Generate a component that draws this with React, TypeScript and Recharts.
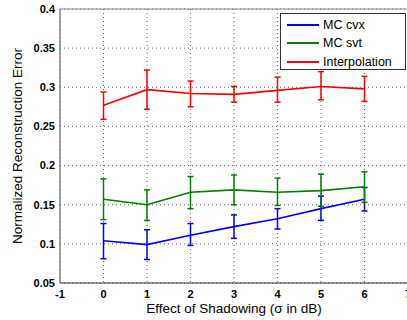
import React from 'react';
import { LineChart, Line, XAxis, YAxis, CartesianGrid, ErrorBar, Legend, ReferenceLine } from 'recharts';

const shadowing = [0, 1, 2, 3, 4, 5, 6];
const cvxMean = [0.104, 0.099, 0.111, 0.122, 0.132, 0.145, 0.157];
const cvxLow = [0.081, 0.080, 0.098, 0.107, 0.119, 0.130, 0.142];
const cvxHigh = [0.126, 0.118, 0.126, 0.137, 0.145, 0.161, 0.172];
const svtMean = [0.157, 0.150, 0.166, 0.169, 0.166, 0.168, 0.173];
const svtLow = [0.131, 0.130, 0.145, 0.150, 0.149, 0.148, 0.153];
const svtHigh = [0.183, 0.169, 0.186, 0.188, 0.184, 0.189, 0.192];
const intMean = [0.277, 0.297, 0.292, 0.291, 0.296, 0.301, 0.298];
const intLow = [0.259, 0.272, 0.275, 0.281, 0.281, 0.284, 0.282];
const intHigh = [0.294, 0.322, 0.308, 0.301, 0.313, 0.320, 0.314];
const xTicks = [-1, 0, 1, 2, 3, 4, 5, 6, 7];
const yTicks = [0.05, 0.1, 0.15, 0.2, 0.25, 0.3, 0.35, 0.4];
const seriesNames = ['MC cvx', 'MC svt', 'Interpolation'];
const seriesColors = ['#0000ff', '#008000', '#ff0000'];

const data = shadowing.map((x, i) => ({
  x,
  cvx: cvxMean[i],
  cvxErr: [cvxMean[i] - cvxLow[i], cvxHigh[i] - cvxMean[i]],
  svt: svtMean[i],
  svtErr: [svtMean[i] - svtLow[i], svtHigh[i] - svtMean[i]],
  interp: intMean[i],
  interpErr: [intMean[i] - intLow[i], intHigh[i] - intMean[i]],
}));

const FONT = 'Arial, "Liberation Sans", Helvetica, sans-serif';

const LegendBox = () => (
  <div
    style={{
      width: 126,
      height: 57,
      boxSizing: 'border-box',
      border: '1px solid #333',
      background: '#fff',
      fontFamily: FONT,
      fontSize: 12.5,
      color: '#000',
      paddingTop: 2,
    }}
  >
    {seriesNames.map((name, i) => (
      <div key={name} style={{ display: 'flex', alignItems: 'center', height: 18.3 }}>
        <div style={{ marginLeft: 6, width: 32, height: 2, background: seriesColors[i] }} />
        <span style={{ marginLeft: 4 }}>{name}</span>
      </div>
    ))}
  </div>
);

export default function App() {
  return (
    <div style={{ position: 'fixed', left: 0, top: 0, width: 407, height: 320, overflow: 'hidden', background: '#fff' }}>
      <LineChart width={420} height={320} data={data} margin={{ top: 9, right: 12, bottom: 7, left: 0 }}>
        <CartesianGrid stroke="#666" strokeDasharray="1 3" />
        <XAxis
          type="number"
          dataKey="x"
          domain={[-1, 7]}
          ticks={xTicks}
          interval={0}
          allowDataOverflow
          height={30}
          tickLine={false}
          tickSize={0}
          tickMargin={7}
          axisLine={{ stroke: '#333', strokeWidth: 1.2 }}
          tick={{ fill: '#000', fontSize: 11, fontWeight: 'bold', fontFamily: FONT }}
          label={{ value: 'Effect of Shadowing (σ in dB)', position: 'bottom', offset: -10, fill: '#000', fontSize: 13.5, fontFamily: FONT }}
        />
        <YAxis
          type="number"
          domain={[0.05, 0.4]}
          ticks={yTicks}
          interval={0}
          allowDataOverflow
          width={60}
          tickLine={false}
          tickSize={0}
          tickMargin={5}
          axisLine={{ stroke: '#777', strokeWidth: 1.3 }}
          tickFormatter={(v: number) => String(Number(v.toFixed(2)))}
          tick={{ fill: '#000', fontSize: 11, fontWeight: 'bold', fontFamily: FONT }}
          label={{ value: 'Normalized Reconstruction Error', angle: -90, position: 'insideLeft', offset: 17, fill: '#000', fontSize: 13.5, fontFamily: FONT, style: { textAnchor: 'middle' } }}
        />
        <ReferenceLine y={0.4} stroke="#888" strokeWidth={1} />
        <Line dataKey="cvx" name="MC cvx" stroke={seriesColors[0]} strokeWidth={1.6} dot={false} isAnimationActive={false}>
          <ErrorBar dataKey="cvxErr" width={3} stroke={seriesColors[0]} strokeWidth={1.5} isAnimationActive={false} />
        </Line>
        <Line dataKey="svt" name="MC svt" stroke={seriesColors[1]} strokeWidth={1.6} dot={false} isAnimationActive={false}>
          <ErrorBar dataKey="svtErr" width={3} stroke={seriesColors[1]} strokeWidth={1.5} isAnimationActive={false} />
        </Line>
        <Line dataKey="interp" name="Interpolation" stroke={seriesColors[2]} strokeWidth={1.6} dot={false} isAnimationActive={false}>
          <ErrorBar dataKey="interpErr" width={3} stroke={seriesColors[2]} strokeWidth={1.5} isAnimationActive={false} />
        </Line>
        <Legend
          layout="horizontal"
          verticalAlign="middle"
          align="center"
          content={() => <LegendBox />}
          wrapperStyle={{ position: 'absolute', left: 280, top: 13, width: 126, height: 57 }}
        />
      </LineChart>
    </div>
  );
}
